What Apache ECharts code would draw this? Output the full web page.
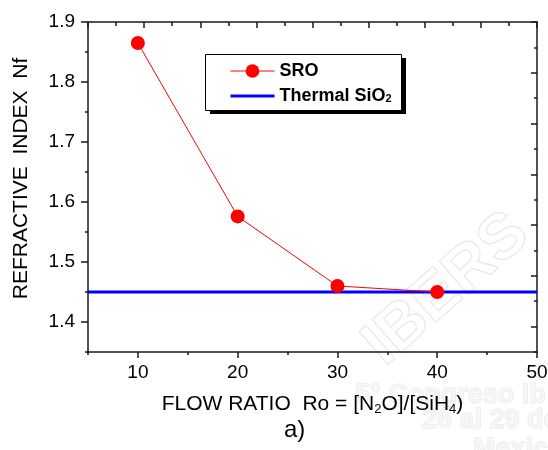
<!DOCTYPE html>
<html>
<head>
<meta charset="utf-8">
<script src="https://cdn.jsdelivr.net/npm/echarts@6/dist/echarts.min.js"></script>
<style>
html,body{margin:0;padding:0;background:#fff;}
#chart{width:548px;height:450px;}
</style>
</head>
<body>
<div id="chart"></div>
<script>
// ---- data ----
const sroX = [10, 20, 30, 40];
const sroY = [1.865, 1.576, 1.460, 1.450];
const thermalX = [5, 50];
const thermalY = [1.45, 1.45];
const xMajorTicks = [10, 20, 30, 40, 50];
const xMinorTicks = [5, 15, 25, 35, 45];
const yMajorTicks = [1.4, 1.5, 1.6, 1.7, 1.8, 1.9];
const yMinorTicks = [1.35, 1.45, 1.55, 1.65, 1.75, 1.85];
const topMajorTicks = [0, 2, 4, 6, 8, 10, 12, 14, 16];
const rightMajorTicks = [1, 3, 5, 7, 9, 11, 13];
const seriesNames = ['SRO', 'Thermal SiO2'];
const yTitle = 'REFRACTIVE  INDEX  Nf';
const panelLabel = 'a)';

const FONT = '"Liberation Sans", Arial, Helvetica, sans-serif';
const AX = '#1a1a1a';

const chart = echarts.init(document.getElementById('chart'), null, {renderer: 'canvas'});

const axisLine = {show: true, onZero: false, lineStyle: {color: AX, width: 1.5}};

const option = {
  backgroundColor: '#fff',
  animation: false,
  textStyle: {fontFamily: FONT},
  grid: {left: 88, right: 11, top: 22, bottom: 98, containLabel: false, outerBoundsMode: 'none'},
  legend: {
    data: [
      {name: seriesNames[0], lineStyle: {width: 1, color: '#ff0000'}},
      {name: seriesNames[1], itemStyle: {opacity: 0}, lineStyle: {width: 3, color: '#0000ff'}}
    ],
    orient: 'vertical',
    left: 205, top: 54,
    padding: [8, 4, 6, 24],
    itemWidth: 44, itemHeight: 17, itemGap: 7,
    z: 10,
    formatter: function (name) {
      if (name === 'Thermal SiO2') return '{b|Thermal SiO}{s|2}';
      return '{b|' + name + '}';
    },
    textStyle: {
      rich: {
        b: {fontFamily: FONT, fontWeight: 'bold', fontSize: 18, color: '#000', lineHeight: 17},
        s: {fontFamily: FONT, fontWeight: 'bold', fontSize: 11, color: '#000', lineHeight: 5, verticalAlign: 'bottom'}
      }
    }
  },
  xAxis: [
    {
      type: 'value', position: 'bottom', min: 5, max: 50,
      axisLine: axisLine,
      axisTick: {show: true, customValues: xMajorTicks, length: 6, inside: false, lineStyle: {color: AX, width: 1.5}},
      axisLabel: {show: true, customValues: xMajorTicks, margin: 11, fontSize: 19, color: '#000', fontFamily: FONT},
      splitLine: {show: false},
      name: '{t|FLOW RATIO  Ro = [N}{s|2}{t|O]/[SiH}{s|4}{t|)}',
      nameLocation: 'middle', nameGap: 40,
      nameTextStyle: {
        rich: {
          t: {fontFamily: FONT, fontSize: 21, color: '#000', lineHeight: 24},
          s: {fontFamily: FONT, fontSize: 13, color: '#000', lineHeight: 8, verticalAlign: 'bottom'}
        }
      }
    },
    {
      type: 'value', position: 'bottom', min: 5, max: 50,
      axisLine: {show: false, onZero: false},
      axisTick: {show: true, customValues: xMinorTicks, length: 3, inside: false, lineStyle: {color: AX, width: 1.5}},
      axisLabel: {show: false},
      splitLine: {show: false}
    },
    {
      type: 'value', position: 'top', min: 0, max: 16, interval: 1,
      axisLine: axisLine,
      axisTick: {show: true, length: 4, inside: true, lineStyle: {color: AX, width: 1.5}},
      axisLabel: {show: false},
      splitLine: {show: false}
    },
    {
      type: 'value', position: 'top', min: 0, max: 16,
      axisLine: {show: false, onZero: false},
      axisTick: {show: true, customValues: topMajorTicks, length: 6, inside: true, lineStyle: {color: AX, width: 1.5}},
      axisLabel: {show: false},
      splitLine: {show: false}
    }
  ],
  yAxis: [
    {
      type: 'value', position: 'left', min: 1.35, max: 1.9,
      axisLine: axisLine,
      axisTick: {show: true, customValues: yMajorTicks, length: 7, inside: false, lineStyle: {color: AX, width: 1.5}},
      axisLabel: {show: true, customValues: yMajorTicks, margin: 13, fontSize: 19, color: '#000', fontFamily: FONT,
        formatter: function (v) { return Number(v).toFixed(1); }},
      splitLine: {show: false},
      name: yTitle, nameLocation: 'middle', nameGap: 56,
      nameTextStyle: {fontFamily: FONT, fontSize: 21, color: '#000', padding: [0, 0, 0, 17]}
    },
    {
      type: 'value', position: 'left', min: 1.35, max: 1.9,
      axisLine: {show: false, onZero: false},
      axisTick: {show: true, customValues: yMinorTicks, length: 3, inside: false, lineStyle: {color: AX, width: 1.5}},
      axisLabel: {show: false},
      splitLine: {show: false}
    },
    {
      type: 'value', position: 'right', min: 0, max: 13, interval: 1,
      axisLine: axisLine,
      axisTick: {show: true, length: 3, inside: true, lineStyle: {color: AX, width: 1.5}},
      axisLabel: {show: false},
      splitLine: {show: false}
    },
    {
      type: 'value', position: 'right', min: 0, max: 13,
      axisLine: {show: false, onZero: false},
      axisTick: {show: true, customValues: rightMajorTicks, length: 6, inside: true, lineStyle: {color: AX, width: 1.5}},
      axisLabel: {show: false},
      splitLine: {show: false}
    }
  ],
  graphic: [
    // legend frame shadow and frame
    {type: 'rect', z: 5, silent: true, shape: {x: 210, y: 58, width: 196, height: 56},
      style: {fill: '#000'}},
    {type: 'rect', z: 6, silent: true, shape: {x: 205.5, y: 54.5, width: 196, height: 56},
      style: {fill: '#fff', stroke: '#000', lineWidth: 1}},
    {type: 'text', left: 284, top: 418, z: 10,
      style: {text: panelLabel, font: '24px ' + FONT, fill: '#000'}},
    // faint watermark of the source image
    {type: 'text', x: 352, y: 330, rotation: 0.72, z: -1, silent: true,
      style: {text: 'IBERS', font: 'bold 64px ' + FONT, fill: 'rgba(0,0,0,0)', stroke: '#e8e8e8', lineWidth: 1.2}},
    {type: 'text', x: 355, y: 382, z: -1, silent: true,
      style: {text: '5° Congreso Ib', font: 'bold 27px ' + FONT, fill: '#f6f6f6', stroke: '#e4e4e4', lineWidth: 1}},
    {type: 'text', x: 422, y: 407, z: -1, silent: true,
      style: {text: '26 al 29 de', font: 'bold 27px ' + FONT, fill: '#f6f6f6', stroke: '#e4e4e4', lineWidth: 1}},
    {type: 'text', x: 473, y: 436, z: -1, silent: true,
      style: {text: 'Mexico', font: 'bold 27px ' + FONT, fill: '#f6f6f6', stroke: '#e4e4e4', lineWidth: 1}}
  ],
  series: [
    {
      name: 'Thermal SiO2', type: 'line', xAxisIndex: 0, yAxisIndex: 0,
      data: thermalX.map((x, i) => [x, thermalY[i]]),
      symbol: 'none', color: '#0000ff',
      lineStyle: {color: '#0000ff', width: 3}, z: 2
    },
    {
      name: 'SRO', type: 'line', xAxisIndex: 0, yAxisIndex: 0,
      data: sroX.map((x, i) => [x, sroY[i]]),
      symbol: 'circle', symbolSize: 14, color: '#ff0000',
      itemStyle: {color: '#ff0000'},
      lineStyle: {color: '#ff0000', width: 1}, z: 3
    }
  ]
};
chart.setOption(option);
</script>
</body>
</html>
